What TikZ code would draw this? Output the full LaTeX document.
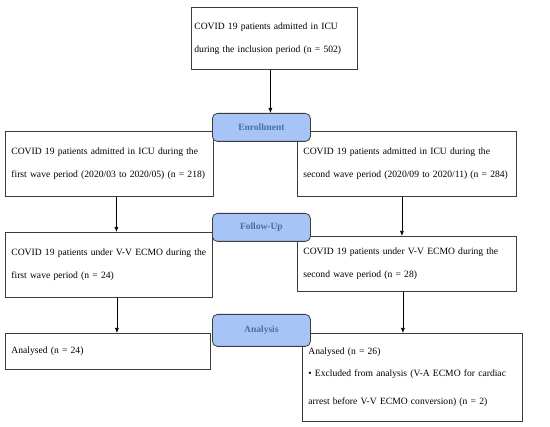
\documentclass[tikz,border=0pt]{standalone}
\usepackage{fontspec}
\setmainfont{Liberation Serif}
\usetikzlibrary{arrows.meta}
\definecolor{lblfill}{RGB}{166,196,245}
\definecolor{lbltext}{RGB}{75,110,170}
\definecolor{boxline}{RGB}{60,60,60}
\begin{document}
\begin{tikzpicture}[x=1pt,y=-1pt,
  box/.style={draw=boxline, line width=0.8pt, anchor=north west, align=left,
    inner xsep=6pt, inner ysep=0pt, font=\fontsize{9.6}{23}\selectfont},
  lbl/.style={draw=boxline, line width=0.8pt, fill=lblfill, rounded corners=5pt,
    anchor=north west, font=\fontsize{9.5}{11}\selectfont\bfseries, text=lbltext,
    minimum width=98pt, inner sep=0pt},
  arr/.style={draw=black, line width=0.6pt, -{Latex[length=5pt,width=4pt]}}]
\fill[white] (0,0) rectangle (550,427);
\useasboundingbox (0,0) rectangle (550,427);

\node[box, inner xsep=3pt, text width=160pt, minimum height=62pt] (top) at (191,7)
  {COVID 19 patients admitted in ICU\\during the inclusion period (n = 502)};
\node[box, text width=196pt, minimum height=65pt] (l2) at (5,131)
  {COVID 19 patients admitted in ICU during the\\first wave period (2020/03 to 2020/05) (n = 218)};
\node[box, text width=207pt, minimum height=65pt] (r2) at (297,131)
  {COVID 19 patients admitted in ICU during the\\second wave period (2020/09 to 2020/11) (n = 284)};
\node[box, text width=195pt, minimum height=65pt] (l3) at (5,232)
  {COVID 19 patients under V-V ECMO during the\\first wave period (n = 24)};
\node[box, text width=207pt, minimum height=55pt] (r3) at (297,236)
  {COVID 19 patients under V-V ECMO during the\\second wave period (n = 28)};
\node[box, text width=193pt, minimum height=36pt] (l4) at (5,333)
  {Analysed (n = 24)};
\node[box, text width=208pt, minimum height=88pt] (r4) at (302,333)
  {Analysed (n = 26)\\[-1pt]\textbullet\ Excluded from analysis (V-A ECMO for cardiac\\[5pt]arrest before V-V ECMO conversion) (n = 2)};

\node[lbl, minimum height=28pt] (enroll) at (212,113) {Enrollment};
\node[lbl, minimum height=28pt] (follow) at (212,213) {Follow-Up};
\node[lbl, minimum height=32pt] (analysis) at (212,314) {Analysis};

\draw[arr] ([xshift=-4pt]top.south) -- ([xshift=-4pt]top.south |- enroll.north);
\draw[arr] ([xshift=7pt]l2.south) -- ([xshift=7pt]l2.south |- l3.north);
\draw[arr] ([xshift=-5pt]r2.south) -- ([xshift=-5pt]r2.south |- r3.north);
\draw[arr] ([xshift=8pt]l3.south) -- ([xshift=8pt]l3.south |- l4.north);
\draw[arr] ([xshift=-4pt]r3.south) -- ([xshift=-4pt]r3.south |- r4.north);
\end{tikzpicture}
\end{document}
